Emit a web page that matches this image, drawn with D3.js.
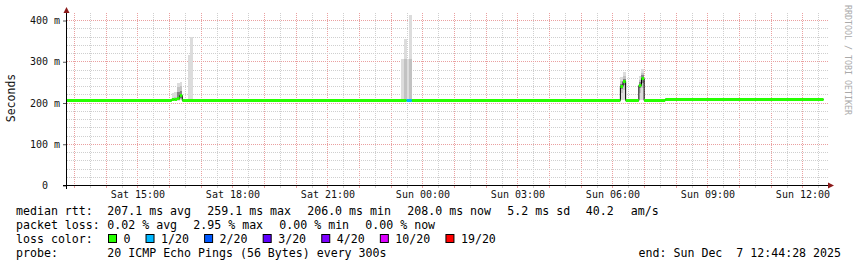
<!DOCTYPE html>
<html>
<head>
  <meta charset="utf-8">
  <style>
    body { margin: 0; background: #fff; }
    svg { display: block; }
    text { font-family: "DejaVu Sans Mono", monospace; }
    .legend { font-size: 11.6px; white-space: pre; fill: #000; }
  </style>
</head>
<body>
  <svg width="857" height="267"></svg>
  <script src="https://cdn.jsdelivr.net/npm/d3@7"></script>
  <script>
    // time window of the graph (24h ending at the last update)
    var axisStart = "2025-12-06T12:46:30",
        axisEnd = "2025-12-07T12:46:30",
        lastSample = "2025-12-07T12:40";

    // median rtt in ms, each value holds until the next time (5 min rrd steps)
    var medianTimes = ["2025-12-06T12:45", "2025-12-06T16:05", "2025-12-06T16:10", "2025-12-06T16:15",
      "2025-12-06T16:20", "2025-12-06T16:25", "2025-12-06T23:30", "2025-12-06T23:40",
      "2025-12-07T06:15", "2025-12-07T06:20", "2025-12-07T06:25", "2025-12-07T06:50",
      "2025-12-07T06:55", "2025-12-07T07:00", "2025-12-07T07:40"];
    var medianValues = [207.1, 208, 209, 212, 219, 207.1, 207.1, 207.1, 240, 253, 207.1, 243, 260, 207.1, 208];
    var medianLoss = [0, 0, 0, 0, 0, 0, 1, 0, 0, 0, 0, 0, 0, 0, 0];

    // smoke (spread of the 20 pings) for the 5 min steps where it shows above the median
    var smokeTimes = ["2025-12-06T16:05", "2025-12-06T16:10", "2025-12-06T16:15", "2025-12-06T16:20",
      "2025-12-06T16:35", "2025-12-06T16:40", "2025-12-06T23:20", "2025-12-06T23:25",
      "2025-12-06T23:30", "2025-12-06T23:35", "2025-12-07T06:15", "2025-12-07T06:20",
      "2025-12-07T06:50", "2025-12-07T06:55"];
    var smokeOuter = [[203, 222], [203, 226], [204, 248], [205, 250], [205, 315], [205, 360], [205, 305],
      [205, 353], [205, 305], [205, 412], [205, 262], [205, 273], [205, 265], [205, 282]];
    var smokeMid = [null, [205, 214], [206, 238], [208, 240], null, null, null,
      [205, 305], null, [205, 305], [222, 252], [230, 265], [222, 255], [235, 272]];
    var smokeInner = [null, null, [207, 226], [212, 228], null, null, null,
      null, null, null, [232, 246], [242, 258], [234, 249], [248, 266]];

    var yTicks = [0, 100, 200, 300, 400];

    var lossLevels = ["0", "1/20", "2/20", "3/20", "4/20", "10/20", "19/20"],
        lossColors = ["#26ff00", "#00b8ff", "#0059ff", "#5e00ff", "#7e00ff", "#dd00ff", "#ff0000"];

    var rttStats = ["207.1 ms avg", "259.1 ms max", "206.0 ms min", "208.0 ms now", "5.2 ms sd", "40.2", "am/s"],
        lossStats = ["0.02 % avg", "2.95 % max", "0.00 % min", "0.00 % now"],
        probeText = "20 ICMP Echo Pings (56 Bytes) every 300s",
        endText = "end: Sun Dec  7 12:44:28 2025";

    var svg = d3.select("svg");
    var majorGrid = "#eaa0a0", minorGrid = "#cfcfcf", arrowColor = "#8b1a1a";

    var x = d3.scaleTime().domain([new Date(axisStart), new Date(axisEnd)]).range([67, 827]),
        y = d3.scaleLinear().domain([0, 400]).range([185, 20]);

    var step = 5 * 60 * 1000;
    var crisp = function(v) { return Math.round(v) + 0.5; };

    svg.append("defs").append("clipPath").attr("id", "clip")
      .append("rect").attr("x", 67).attr("y", 6).attr("width", 761).attr("height", 179);

    // grid
    var grid = svg.append("g");
    var halfHours = d3.timeMinute.every(30).range(x.domain()[0], x.domain()[1]);
    grid.selectAll(".vgrid").data(halfHours).enter().append("line")
        .attr("x1", function(d) { return crisp(x(d)); })
        .attr("x2", function(d) { return crisp(x(d)); })
        .attr("y1", 13).attr("y2", 185)
        .attr("stroke", function(d) { return d.getMinutes() === 0 ? majorGrid : minorGrid; })
        .attr("stroke-dasharray", "1,1");
    grid.selectAll(".hgrid").data(d3.range(20, 401, 20)).enter().append("line")
        .attr("x1", 67).attr("x2", 829)
        .attr("y1", function(d) { return crisp(y(d)); })
        .attr("y2", function(d) { return crisp(y(d)); })
        .attr("stroke", function(d) { return d % 100 === 0 ? majorGrid : minorGrid; })
        .attr("stroke-dasharray", "1,1");

    // smoke
    var plot = svg.append("g").attr("clip-path", "url(#clip)");
    function drawSmoke(bands, color) {
      var rows = smokeTimes.map(function(t, i) { return {t: new Date(t), b: bands[i]}; })
        .filter(function(d) { return d.b; });
      plot.selectAll(null).data(rows).enter().append("rect")
          .attr("x", function(d) { return x(d.t); })
          .attr("width", function(d) { return x(new Date(+d.t + step)) - x(d.t); })
          .attr("y", function(d) { return y(d.b[1]); })
          .attr("height", function(d) { return y(d.b[0]) - y(d.b[1]); })
          .attr("fill", color)
          .attr("shape-rendering", "crispEdges");
    }
    drawSmoke(smokeOuter, "#dcdcdc");
    drawSmoke(smokeMid, "#c2c2c2");
    drawSmoke(smokeInner, "#858585");

    // median: thin black step line, then loss coloured segments
    var med = medianTimes.map(function(t, i) {
      return {t: new Date(t), v: medianValues[i], loss: medianLoss[i],
              t2: new Date(i + 1 < medianTimes.length ? medianTimes[i + 1] : lastSample)};
    });
    var stepLine = d3.line()
        .x(function(d) { return x(d.t); })
        .y(function(d) { return crisp(y(d.v)); })
        .curve(d3.curveStepAfter);
    plot.append("path")
        .datum(med.concat([{t: new Date(lastSample), v: medianValues[medianValues.length - 1]}]))
        .attr("d", stepLine)
        .attr("fill", "none")
        .attr("stroke", "#000")
        .attr("stroke-width", 1);
    plot.selectAll(".med").data(med).enter().append("line")
        .attr("x1", function(d) { return x(d.t); })
        .attr("x2", function(d) { return x(d.t2); })
        .attr("y1", function(d) { return crisp(y(d.v)); })
        .attr("y2", function(d) { return crisp(y(d.v)); })
        .attr("stroke", function(d) { return lossColors[d.loss]; })
        .attr("stroke-width", 3);

    // x axis
    var xAxis = d3.axisBottom(x)
        .ticks(d3.timeHour.every(3))
        .tickFormat(d3.timeFormat("%a %H:%M"))
        .tickSize(0)
        .tickPadding(6);
    var gx = svg.append("g").attr("transform", "translate(0,185)").call(xAxis);
    gx.select(".domain").remove();
    gx.selectAll("text").attr("font-family", "DejaVu Sans Mono").attr("font-size", "10px").attr("fill", "#111");

    svg.append("g").selectAll("line").data(halfHours).enter().append("line")
        .attr("x1", function(d) { return crisp(x(d)); })
        .attr("x2", function(d) { return crisp(x(d)); })
        .attr("y1", 186).attr("y2", 188)
        .attr("stroke", function(d) { return d.getMinutes() === 0 ? majorGrid : minorGrid; });

    // y axis
    var yAxis = d3.axisLeft(y)
        .tickValues(yTicks)
        .tickFormat(function(d) { return d === 0 ? "0" : d + " m"; })
        .tickSize(4)
        .tickPadding(3);
    var gy = svg.append("g").attr("transform", "translate(67,0)").call(yAxis);
    gy.select(".domain").remove();
    gy.selectAll("line").attr("stroke", "#555").attr("transform", "translate(0,0.5)");
    gy.selectAll("text").attr("font-family", "DejaVu Sans Mono").attr("font-size", "10px")
        .attr("fill", "#111").attr("dy", "0.36em")
        .attr("dx", function(d) { return d === 0 ? -12 : 0; });

    // axis lines and arrows
    svg.append("line").attr("x1", 63).attr("x2", 829).attr("y1", 185.5).attr("y2", 185.5).attr("stroke", "#000");
    svg.append("line").attr("x1", 66.5).attr("x2", 66.5).attr("y1", 189).attr("y2", 12).attr("stroke", "#000");
    svg.append("path").attr("d", "M828,182.5L834,185.5L828,188.5Z").attr("fill", arrowColor);
    svg.append("path").attr("d", "M63.5,13L66.5,7L69.5,13Z").attr("fill", arrowColor);

    // titles
    svg.append("text")
        .attr("transform", "translate(11,98) rotate(-90)")
        .attr("text-anchor", "middle")
        .attr("dominant-baseline", "central")
        .attr("font-size", "11.5px")
        .attr("fill", "#111")
        .text("Seconds");
    svg.append("text")
        .attr("transform", "translate(845,5) rotate(90)")
        .attr("font-size", "8.3px")
        .attr("fill", "#aaa")
        .text("RRDTOOL / TOBI OETIKER");

    // legend, one text per gprint chunk like rrdtool places them
    var legend = svg.append("g");
    function chunk(txt, cx, cy, anchor) {
      legend.append("text").attr("class", "legend")
          .attr("x", cx).attr("y", cy)
          .attr("text-anchor", anchor || "start")
          .text(txt);
    }
    chunk("median rtt:", 16, 215);
    [107.3, 207.3, 307.2, 407.3, 507.3, 585.7, 630.7].forEach(function(px, i) { chunk(rttStats[i], px, 215); });
    chunk("packet loss:", 16, 229);
    [107.3, 193.3, 279.3, 365.3].forEach(function(px, i) { chunk(lossStats[i], px, 229); });
    chunk("loss color:", 16, 243);
    chunk("probe:", 16, 257);
    chunk(probeText, 107.3, 257);
    chunk(endText, 841, 257, "end");

    var charW = 7.02, pos = 108.5;
    lossLevels.forEach(function(lbl, i) {
      legend.append("rect")
          .attr("x", pos).attr("y", 234.5).attr("width", 8).attr("height", 8)
          .attr("fill", lossColors[i]).attr("stroke", "#000");
      chunk(lbl, pos + 15, 243);
      pos += 15 + lbl.length * charW + 15.5;
    });
  </script>
</body>
</html>
